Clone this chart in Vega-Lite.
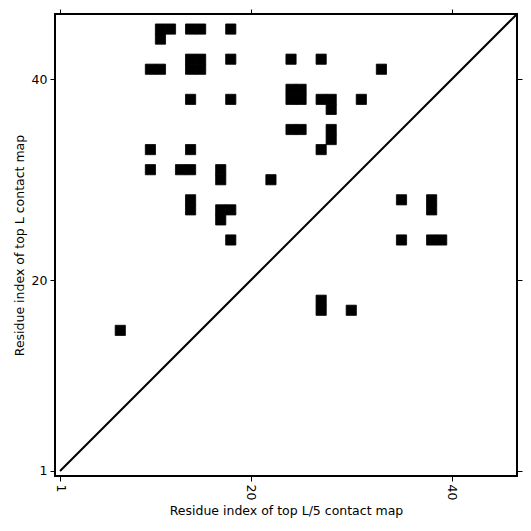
{
  "$schema": "https://vega.github.io/schema/vega-lite/v6.json",
  "width": 462,
  "height": 462,
  "autosize": "none",
  "padding": {"left": 55, "top": 14, "right": 14, "bottom": 55},
  "background": "white",
  "config": {
    "view": {"stroke": "black", "strokeWidth": 2},
    "axis": {
      "labelFont": "DejaVu Sans",
      "titleFont": "DejaVu Sans",
      "labelFontSize": 12.5,
      "titleFontSize": 12.5,
      "titleFontWeight": "normal",
      "labelColor": "#000",
      "titleColor": "#000",
      "tickColor": "#000",
      "tickWidth": 1,
      "tickSize": 5,
      "domain": false,
      "grid": false,
      "labelPadding": 3
    }
  },
  "layer": [
    {
      "data": {
        "values": [
          {"i": 11, "j": 45}, {"i": 12, "j": 45}, {"i": 11, "j": 44}, {"i": 14, "j": 45}, {"i": 15, "j": 45}, {"i": 18, "j": 45},
          {"i": 10, "j": 41}, {"i": 11, "j": 41}, {"i": 14, "j": 42}, {"i": 15, "j": 42}, {"i": 14, "j": 41}, {"i": 15, "j": 41}, {"i": 18, "j": 42},
          {"i": 14, "j": 38}, {"i": 18, "j": 38},
          {"i": 24, "j": 42}, {"i": 27, "j": 42}, {"i": 33, "j": 41},
          {"i": 24, "j": 39}, {"i": 25, "j": 39}, {"i": 24, "j": 38}, {"i": 25, "j": 38},
          {"i": 27, "j": 38}, {"i": 28, "j": 38}, {"i": 28, "j": 37}, {"i": 31, "j": 38},
          {"i": 24, "j": 35}, {"i": 25, "j": 35}, {"i": 28, "j": 35}, {"i": 28, "j": 34}, {"i": 27, "j": 33},
          {"i": 10, "j": 33}, {"i": 14, "j": 33}, {"i": 10, "j": 31}, {"i": 13, "j": 31}, {"i": 14, "j": 31}, {"i": 17, "j": 31}, {"i": 17, "j": 30}, {"i": 22, "j": 30},
          {"i": 14, "j": 28}, {"i": 14, "j": 27}, {"i": 17, "j": 27}, {"i": 18, "j": 27}, {"i": 17, "j": 26}, {"i": 18, "j": 24},
          {"i": 35, "j": 28}, {"i": 38, "j": 28}, {"i": 38, "j": 27}, {"i": 35, "j": 24}, {"i": 38, "j": 24}, {"i": 39, "j": 24},
          {"i": 27, "j": 18}, {"i": 27, "j": 17}, {"i": 30, "j": 17}, {"i": 7, "j": 15}
        ]
      },
      "mark": {"type": "point", "shape": "square", "size": 104, "filled": true, "fill": "black", "stroke": "black", "strokeWidth": 0.8, "opacity": 1},
      "encoding": {
        "x": {
          "field": "i", "type": "quantitative",
          "scale": {"domain": [0.5, 46.5], "nice": false, "zero": false},
          "axis": {"values": [1, 20, 40], "labelAngle": 90, "title": "Residue index of top L/5 contact map", "titlePadding": 5}
        },
        "y": {
          "field": "j", "type": "quantitative",
          "scale": {"domain": [0.5, 46.5], "nice": false, "zero": false},
          "axis": {"values": [1, 20, 40], "title": "Residue index of top L contact map", "titlePadding": 5}
        }
      }
    },
    {
      "data": {"values": [{"i": 1, "j": 1}, {"i": 46.5, "j": 46.5}]},
      "mark": {"type": "line", "color": "black", "strokeWidth": 2, "clip": true},
      "encoding": {
        "x": {"field": "i", "type": "quantitative", "axis": {"orient": "top", "values": [1, 20, 40], "labels": false, "title": null}},
        "y": {"field": "j", "type": "quantitative", "axis": {"orient": "right", "values": [1, 20, 40], "labels": false, "title": null}}
      }
    }
  ],
  "resolve": {"axis": {"x": "independent", "y": "independent"}}
}
